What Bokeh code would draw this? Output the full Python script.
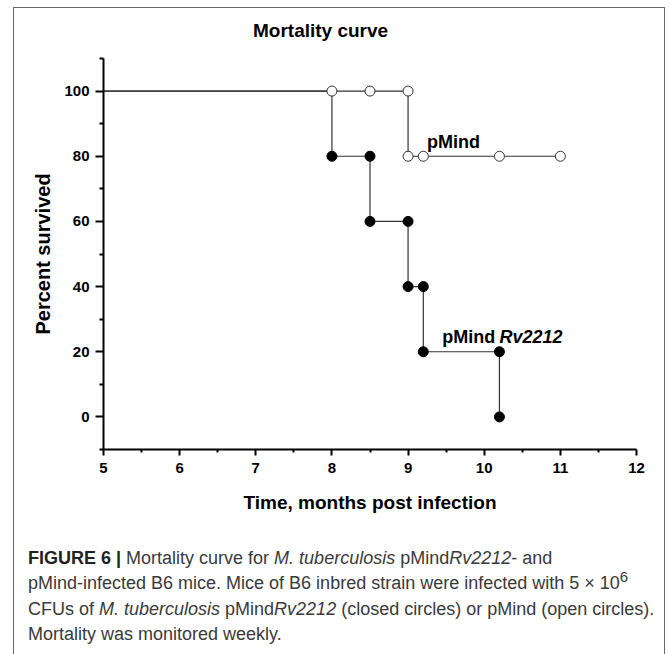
from bokeh.plotting import figure
from bokeh.models import Range1d, FixedTicker, Label, Div
from bokeh.layouts import column
from bokeh.embed import file_html
from bokeh.resources import INLINE

# ---- data ----
rv_time = [5, 8, 8.5, 9, 9.2, 10.2]
rv_surv = [100, 80, 60, 40, 20, 0]
mind_time = [5, 9, 11]
mind_surv = [100, 80, 80]

rv_mark_x = [8, 8.5, 8.5, 9, 9, 9.2, 9.2, 10.2, 10.2]
rv_mark_y = [80, 80, 60, 60, 40, 40, 20, 20, 0]
mind_mark_x = [8, 8.5, 9, 9, 9.2, 10.2, 11]
mind_mark_y = [100, 100, 100, 80, 80, 80, 80]

x_ticks = [5, 6, 7, 8, 9, 10, 11, 12]
x_minor = [5.5, 6.5, 7.5, 8.5, 9.5, 10.5, 11.5]
y_ticks = [0, 20, 40, 60, 80, 100]
y_minor = [-10, 10, 30, 50, 70, 90, 110]

TITLE = "Mortality curve"
FONT = "Liberation Sans"

title_div = Div(
    text=('<div style="font-family:\'Liberation Sans\';font-size:19px;font-weight:bold;'
          'line-height:44px;padding-top:1px;padding-left:239px;color:black;white-space:nowrap;">'
          + TITLE + '</div>'),
    width=650, height=45, margin=(0, 0, 0, 0))

p = figure(width=650, height=485, output_backend="svg", toolbar_location=None,
           x_range=Range1d(5, 12), y_range=Range1d(-10, 110),
           min_border_left=89, min_border_right=28, min_border_top=5, min_border_bottom=89)
p.outline_line_color = None
p.grid.grid_line_color = None
p.background_fill_color = "white"
p.border_fill_color = "white"

for ax in (p.xaxis[0], p.yaxis[0]):
    ax.axis_line_width = 2
    ax.axis_line_color = "black"
    ax.major_tick_line_width = 2
    ax.minor_tick_line_width = 2
    ax.major_tick_in = 0
    ax.minor_tick_in = 0
    ax.major_label_text_font = FONT
    ax.major_label_text_font_style = "bold"
    ax.major_label_text_font_size = "15px"
    ax.major_label_text_color = "black"
    ax.axis_label_text_font = FONT
    ax.axis_label_text_font_style = "bold"
    ax.axis_label_text_color = "black"

p.xaxis.ticker = FixedTicker(ticks=x_ticks, minor_ticks=x_minor)
p.yaxis.ticker = FixedTicker(ticks=y_ticks, minor_ticks=y_minor)
p.xaxis.major_tick_out = 6
p.xaxis.minor_tick_out = 3
p.yaxis.major_tick_out = 8
p.yaxis.minor_tick_out = 4
p.xaxis.major_label_standoff = 7
p.yaxis.major_label_standoff = 6
p.xaxis.axis_label = "Time, months post infection"
p.yaxis.axis_label = "Percent survived"
p.xaxis.axis_label_text_font_size = "19px"
p.yaxis.axis_label_text_font_size = "20px"
p.xaxis.axis_label_standoff = 16
p.yaxis.axis_label_standoff = 7

LINE = "#333333"
p.step(rv_time, rv_surv, mode="after", line_color=LINE, line_width=1.2)
p.step(mind_time, mind_surv, mode="after", line_color=LINE, line_width=1.2)
p.scatter(mind_mark_x, mind_mark_y, marker="circle", size=10, fill_color="white",
          line_color=LINE, line_width=1)
p.scatter(rv_mark_x, rv_mark_y, marker="circle", size=10, fill_color="black",
          line_color="black", line_width=1)

p.add_layout(Label(x=9.25, y=84.3, text="pMind", text_font=FONT, text_font_size="18px",
                   text_font_style="bold", text_baseline="alphabetic", text_color="black"))
p.add_layout(Label(x=9.45, y=24.5, text="pMind", text_font=FONT, text_font_size="18px",
                   text_font_style="bold", text_baseline="alphabetic", text_color="black"))
p.add_layout(Label(x=10.2, y=24.5, text="Rv2212", text_font=FONT, text_font_size="18px",
                   text_font_style="bold italic", text_baseline="alphabetic", text_color="black"))

caption_html = (
    '<div style="font-family:\'Liberation Sans\';font-size:18px;line-height:25.3px;'
    'color:#3a3a3a;white-space:nowrap;">'
    '<b style="color:#222">FIGURE 6 |</b> Mortality curve for <i>M. tuberculosis</i> '
    'pMind<i>Rv2212</i>- and<br>'
    'pMind-infected B6 mice. Mice of B6 inbred strain were infected with 5 &times; '
    '10<sup style="line-height:0">6</sup><br>'
    'CFUs of <i>M. tuberculosis</i> pMind<i>Rv2212</i> (closed circles) or pMind (open circles).<br>'
    'Mortality was monitored weekly.</div>'
)
div = Div(text=caption_html, width=640, height=110,
          styles={"padding-left": "9px", "padding-top": "3px"})

layout = column(title_div, p, div,
                styles={"border-top": "1px solid #666", "border-left": "1px solid #666",
                        "border-right": "1px solid #666", "margin-left": "13px",
                        "margin-top": "7px", "background-color": "white"})

open("out.html", "w").write(file_html(layout, INLINE))
